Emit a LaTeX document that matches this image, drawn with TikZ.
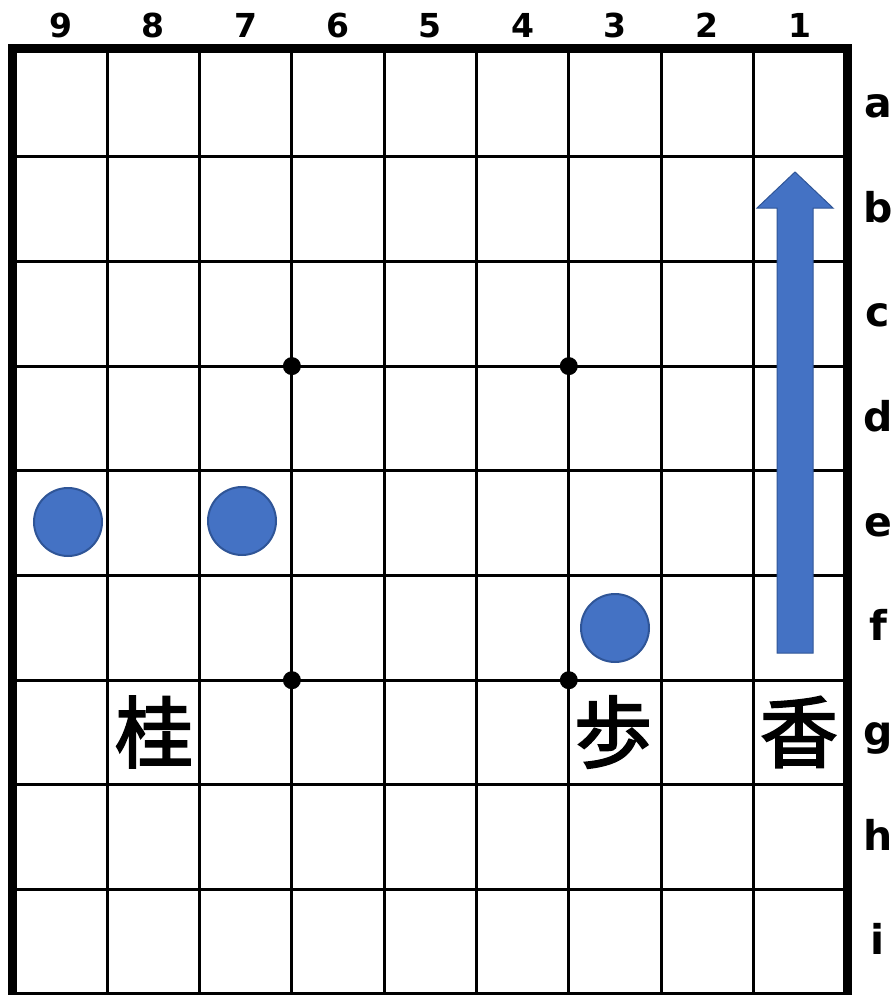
\documentclass[tikz,border=0pt]{standalone}
\usepackage{fontspec}
\setmainfont{DejaVu Sans}
\newfontfamily\jpfont[FakeBold=2.5]{Noto Sans CJK JP}
\usepackage{xcolor}
\usetikzlibrary{positioning, calc}

\definecolor{markBlue}{HTML}{4472C4}
\definecolor{markEdge}{HTML}{2F5597}

\begin{document}
\begin{tikzpicture}[
    x=1pt, y=-1pt,
    gridLine/.style={line width=3pt, black},
    boardEdge/.style={line width=9pt, black},
    colLabel/.style={anchor=base, inner sep=0pt, font=\fontsize{33}{33}\selectfont\bfseries},
    rowLabel/.style={anchor=base, inner sep=0pt, font=\fontsize{41}{41}\selectfont\bfseries},
    pieceNode/.style={inner sep=0pt, font=\jpfont\fontsize{78}{78}\selectfont},
    markNode/.style={circle, fill=markBlue, draw=markEdge, line width=2pt, minimum size=68pt, inner sep=0pt},
    starDot/.style={circle, fill=black, minimum size=18pt, inner sep=0pt},
    blockArrow/.style={fill=markBlue, draw=markEdge, line width=1pt}
]
    \useasboundingbox (0,0) rectangle (895,995);
    \clip (0,0) rectangle (895,995);

    % Grid lines
    \foreach \i in {1,...,8}
        \draw[gridLine] ({15+92.3*\i},52) -- ({15+92.3*\i},994);
    \foreach \j in {1,...,8}
        \draw[gridLine] (15,{52+104.7*\j}) -- (845.7,{52+104.7*\j});

    % Board edge
    \draw[boardEdge] (12.5,49) rectangle (847.5,996.5);

    % Star points
    \node[starDot] (starA) at (291.9,366.1) {};
    \node[starDot] (starB) at (568.8,366.1) {};
    \node[starDot] (starC) at (291.9,680.2) {};
    \node[starDot] (starD) at (568.8,680.2) {};

    % File and rank labels
    \foreach \n [count=\i] in {9,8,7,6,5,4,3,2,1}
        \node[colLabel] (file\n) at ({15+92.3*\i-46.15},38) {\n};
    \foreach \r [count=\j] in {a,b,c,d,e,f,g,h,i}
        \node[rowLabel] (rank\r) at (878,{52+104.7*\j-52.35+13}) {\r};

    % Marked squares
    \node[markNode] (mark9e) at (68,522) {};
    \node[markNode] (mark7e) at (242,521) {};
    \node[markNode] (mark3f) at (615,628) {};

    % Pieces
    \node[pieceNode] (kei) at (154,732) {桂};
    \node[pieceNode] (fu) at (613,732) {歩};
    \node[pieceNode] (kyo) at (799,732) {香};

    % Lance move
    \draw[blockArrow] (777,653) -- (777,208) -- (757,208) -- (795,172)
        -- (833,208) -- (813,208) -- (813,653) -- cycle;

\end{tikzpicture}
\end{document}
